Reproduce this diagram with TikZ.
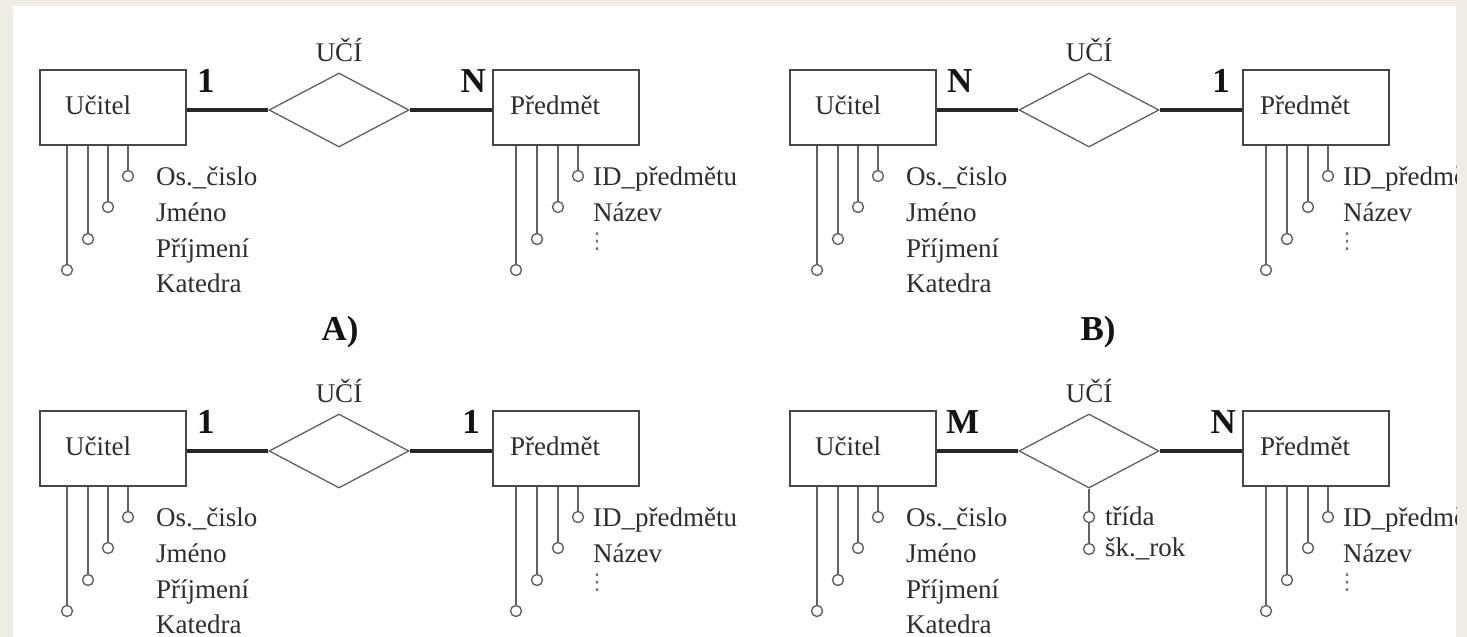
\documentclass[tikz,border=0pt]{standalone}
\usepackage{fontspec}
\setmainfont{Liberation Serif}
\newfontfamily\dotsfont{DejaVu Sans}
\usepackage{tikz}
\usetikzlibrary{shapes.geometric}
\usetikzlibrary{positioning}
\definecolor{pagebeige}{HTML}{EFECE6}

\begin{document}
\begin{tikzpicture}[x=1pt, y=-1pt,
        entity/.style={draw=black!72, line width=2pt, anchor=north west, minimum width=146pt, minimum height=75pt, inner sep=0pt},
        relation/.style={diamond, draw=black!62, line width=1.3pt, minimum width=140pt, minimum height=74pt, inner sep=0pt},
        rel/.style={draw=black!85, line width=3.5pt},
        attr/.style={circle, draw=black!62, line width=1.4pt, fill=white, minimum size=11pt, inner sep=0pt},
        attrline/.style={draw=black!62, line width=1.8pt},
        txt/.style={font=\fontsize{27}{32}\selectfont, text=black!82, inner sep=0pt},
        card/.style={font=\bfseries\fontsize{35}{40}\selectfont, text=black!92, inner sep=0pt}]
    \useasboundingbox (0,0) rectangle (1467,637);
    \fill[pagebeige] (0,0) rectangle (1467,637);
    \fill[white] (13,6) rectangle (1456,637);
    \begin{scope}
        \clip (13,6) rectangle (1456,637);

        % A) 1:N
        \begin{scope}[shift={(39,69)}]
            \node[entity] (a-ucitel) at (0,0) {};
            \node[entity] (a-predmet) at (453,0) {};
            \node[relation] (a-uci) at (300,41) {};
            \node[txt, anchor=base west] at ([xshift=26pt, yshift=-6.5pt]a-ucitel.west) {Učitel};
            \node[txt, anchor=base west] at ([xshift=18pt, yshift=-6.5pt]a-predmet.west) {Předmět};
            \node[txt, above=11pt of a-uci, anchor=base] (a-ucitext) {UČÍ};
            \draw[rel] (a-ucitel.east |- a-uci.west) -- (a-uci.west);
            \draw[rel] (a-uci.east) -- (a-predmet.west |- a-uci.east);
            \node[card, anchor=base west] (a-card1) at ([xshift=10pt, yshift=-23pt]a-ucitel.north east) {1};
            \node[card, anchor=base east] (a-card2) at ([xshift=-6pt, yshift=-23pt]a-predmet.north west) {N};
            \node[attr] (a-u1) at (89,107) {};
            \node[attr] (a-u2) at (69,138) {};
            \node[attr] (a-u3) at (49,170) {};
            \node[attr] (a-u4) at (28,201) {};
            \draw[attrline] (a-u1.north |- a-ucitel.south) -- (a-u1.north);
            \draw[attrline] (a-u2.north |- a-ucitel.south) -- (a-u2.north);
            \draw[attrline] (a-u3.north |- a-ucitel.south) -- (a-u3.north);
            \draw[attrline] (a-u4.north |- a-ucitel.south) -- (a-u4.north);
            \node[txt, anchor=base west] at (117,116) {Os.\_čislo};
            \node[txt, anchor=base west] at (117,152) {Jméno};
            \node[txt, anchor=base west] at (117,188) {Příjmení};
            \node[txt, anchor=base west] at (117,223) {Katedra};
            \node[attr] (a-p1) at (539,107) {};
            \node[attr] (a-p2) at (519,138) {};
            \node[attr] (a-p3) at (498,170) {};
            \node[attr] (a-p4) at (477,201) {};
            \draw[attrline] (a-p1.north |- a-predmet.south) -- (a-p1.north);
            \draw[attrline] (a-p2.north |- a-predmet.south) -- (a-p2.north);
            \draw[attrline] (a-p3.north |- a-predmet.south) -- (a-p3.north);
            \draw[attrline] (a-p4.north |- a-predmet.south) -- (a-p4.north);
            \node[txt, anchor=base west] at (554,116) {ID\_předmětu};
            \node[txt, anchor=base west] at (554,152) {Název};
            \node[txt, font=\dotsfont\fontsize{22}{26}\selectfont, text=black!55] at (558,173) {⋮};
            \node[card, anchor=base] (a-name) at (301,271) {A)};
        \end{scope}

        % B) N:1
        \begin{scope}[shift={(789,69)}]
            \node[entity] (b-ucitel) at (0,0) {};
            \node[entity] (b-predmet) at (453,0) {};
            \node[relation] (b-uci) at (300,41) {};
            \node[txt, anchor=base west] at ([xshift=26pt, yshift=-6.5pt]b-ucitel.west) {Učitel};
            \node[txt, anchor=base west] at ([xshift=18pt, yshift=-6.5pt]b-predmet.west) {Předmět};
            \node[txt, above=11pt of b-uci, anchor=base] (b-ucitext) {UČÍ};
            \draw[rel] (b-ucitel.east |- b-uci.west) -- (b-uci.west);
            \draw[rel] (b-uci.east) -- (b-predmet.west |- b-uci.east);
            \node[card, anchor=base west] (b-card1) at ([xshift=10pt, yshift=-23pt]b-ucitel.north east) {N};
            \node[card, anchor=base east] (b-card2) at ([xshift=-12pt, yshift=-23pt]b-predmet.north west) {1};
            \node[attr] (b-u1) at (89,107) {};
            \node[attr] (b-u2) at (69,138) {};
            \node[attr] (b-u3) at (49,170) {};
            \node[attr] (b-u4) at (28,201) {};
            \draw[attrline] (b-u1.north |- b-ucitel.south) -- (b-u1.north);
            \draw[attrline] (b-u2.north |- b-ucitel.south) -- (b-u2.north);
            \draw[attrline] (b-u3.north |- b-ucitel.south) -- (b-u3.north);
            \draw[attrline] (b-u4.north |- b-ucitel.south) -- (b-u4.north);
            \node[txt, anchor=base west] at (117,116) {Os.\_čislo};
            \node[txt, anchor=base west] at (117,152) {Jméno};
            \node[txt, anchor=base west] at (117,188) {Příjmení};
            \node[txt, anchor=base west] at (117,223) {Katedra};
            \node[attr] (b-p1) at (539,107) {};
            \node[attr] (b-p2) at (519,138) {};
            \node[attr] (b-p3) at (498,170) {};
            \node[attr] (b-p4) at (477,201) {};
            \draw[attrline] (b-p1.north |- b-predmet.south) -- (b-p1.north);
            \draw[attrline] (b-p2.north |- b-predmet.south) -- (b-p2.north);
            \draw[attrline] (b-p3.north |- b-predmet.south) -- (b-p3.north);
            \draw[attrline] (b-p4.north |- b-predmet.south) -- (b-p4.north);
            \node[txt, anchor=base west] at (554,116) {ID\_předmětu};
            \node[txt, anchor=base west] at (554,152) {Název};
            \node[txt, font=\dotsfont\fontsize{22}{26}\selectfont, text=black!55] at (558,173) {⋮};
            \node[card, anchor=base] (b-name) at (309,271) {B)};
        \end{scope}

        % C) 1:1
        \begin{scope}[shift={(39,410)}]
            \node[entity] (c-ucitel) at (0,0) {};
            \node[entity] (c-predmet) at (453,0) {};
            \node[relation] (c-uci) at (300,41) {};
            \node[txt, anchor=base west] at ([xshift=26pt, yshift=-6.5pt]c-ucitel.west) {Učitel};
            \node[txt, anchor=base west] at ([xshift=18pt, yshift=-6.5pt]c-predmet.west) {Předmět};
            \node[txt, above=11pt of c-uci, anchor=base] (c-ucitext) {UČÍ};
            \draw[rel] (c-ucitel.east |- c-uci.west) -- (c-uci.west);
            \draw[rel] (c-uci.east) -- (c-predmet.west |- c-uci.east);
            \node[card, anchor=base west] (c-card1) at ([xshift=10pt, yshift=-23pt]c-ucitel.north east) {1};
            \node[card, anchor=base east] (c-card2) at ([xshift=-12pt, yshift=-23pt]c-predmet.north west) {1};
            \node[attr] (c-u1) at (89,107) {};
            \node[attr] (c-u2) at (69,138) {};
            \node[attr] (c-u3) at (49,170) {};
            \node[attr] (c-u4) at (28,201) {};
            \draw[attrline] (c-u1.north |- c-ucitel.south) -- (c-u1.north);
            \draw[attrline] (c-u2.north |- c-ucitel.south) -- (c-u2.north);
            \draw[attrline] (c-u3.north |- c-ucitel.south) -- (c-u3.north);
            \draw[attrline] (c-u4.north |- c-ucitel.south) -- (c-u4.north);
            \node[txt, anchor=base west] at (117,116) {Os.\_čislo};
            \node[txt, anchor=base west] at (117,152) {Jméno};
            \node[txt, anchor=base west] at (117,188) {Příjmení};
            \node[txt, anchor=base west] at (117,223) {Katedra};
            \node[attr] (c-p1) at (539,107) {};
            \node[attr] (c-p2) at (519,138) {};
            \node[attr] (c-p3) at (498,170) {};
            \node[attr] (c-p4) at (477,201) {};
            \draw[attrline] (c-p1.north |- c-predmet.south) -- (c-p1.north);
            \draw[attrline] (c-p2.north |- c-predmet.south) -- (c-p2.north);
            \draw[attrline] (c-p3.north |- c-predmet.south) -- (c-p3.north);
            \draw[attrline] (c-p4.north |- c-predmet.south) -- (c-p4.north);
            \node[txt, anchor=base west] at (554,116) {ID\_předmětu};
            \node[txt, anchor=base west] at (554,152) {Název};
            \node[txt, font=\dotsfont\fontsize{22}{26}\selectfont, text=black!55] at (558,173) {⋮};
        \end{scope}

        % D) M:N
        \begin{scope}[shift={(789,410)}]
            \node[entity] (d-ucitel) at (0,0) {};
            \node[entity] (d-predmet) at (453,0) {};
            \node[relation] (d-uci) at (300,41) {};
            \node[txt, anchor=base west] at ([xshift=26pt, yshift=-6.5pt]d-ucitel.west) {Učitel};
            \node[txt, anchor=base west] at ([xshift=18pt, yshift=-6.5pt]d-predmet.west) {Předmět};
            \node[txt, above=11pt of d-uci, anchor=base] (d-ucitext) {UČÍ};
            \draw[rel] (d-ucitel.east |- d-uci.west) -- (d-uci.west);
            \draw[rel] (d-uci.east) -- (d-predmet.west |- d-uci.east);
            \node[card, anchor=base west] (d-card1) at ([xshift=9pt, yshift=-23pt]d-ucitel.north east) {M};
            \node[card, anchor=base east] (d-card2) at ([xshift=-6pt, yshift=-23pt]d-predmet.north west) {N};
            \node[attr] (d-u1) at (89,107) {};
            \node[attr] (d-u2) at (69,138) {};
            \node[attr] (d-u3) at (49,170) {};
            \node[attr] (d-u4) at (28,201) {};
            \draw[attrline] (d-u1.north |- d-ucitel.south) -- (d-u1.north);
            \draw[attrline] (d-u2.north |- d-ucitel.south) -- (d-u2.north);
            \draw[attrline] (d-u3.north |- d-ucitel.south) -- (d-u3.north);
            \draw[attrline] (d-u4.north |- d-ucitel.south) -- (d-u4.north);
            \node[txt, anchor=base west] at (117,116) {Os.\_čislo};
            \node[txt, anchor=base west] at (117,152) {Jméno};
            \node[txt, anchor=base west] at (117,188) {Příjmení};
            \node[txt, anchor=base west] at (117,223) {Katedra};
            % atributy vztahu
            \node[attr] (d-r1) at (300,107) {};
            \node[attr] (d-r2) at (300,139) {};
            \draw[attrline] (d-uci.south) -- (d-r1.north);
            \draw[attrline] (d-r1.south) -- (d-r2.north);
            \node[txt, anchor=base west] at (316,115) {třída};
            \node[txt, anchor=base west] at (316,146) {šk.\_rok};
            \node[attr] (d-p1) at (539,107) {};
            \node[attr] (d-p2) at (519,138) {};
            \node[attr] (d-p3) at (498,170) {};
            \node[attr] (d-p4) at (477,201) {};
            \draw[attrline] (d-p1.north |- d-predmet.south) -- (d-p1.north);
            \draw[attrline] (d-p2.north |- d-predmet.south) -- (d-p2.north);
            \draw[attrline] (d-p3.north |- d-predmet.south) -- (d-p3.north);
            \draw[attrline] (d-p4.north |- d-predmet.south) -- (d-p4.north);
            \node[txt, anchor=base west] at (554,116) {ID\_předmětu};
            \node[txt, anchor=base west] at (554,152) {Název};
            \node[txt, font=\dotsfont\fontsize{22}{26}\selectfont, text=black!55] at (558,173) {⋮};
        \end{scope}
    \end{scope}
\end{tikzpicture}
\end{document}
